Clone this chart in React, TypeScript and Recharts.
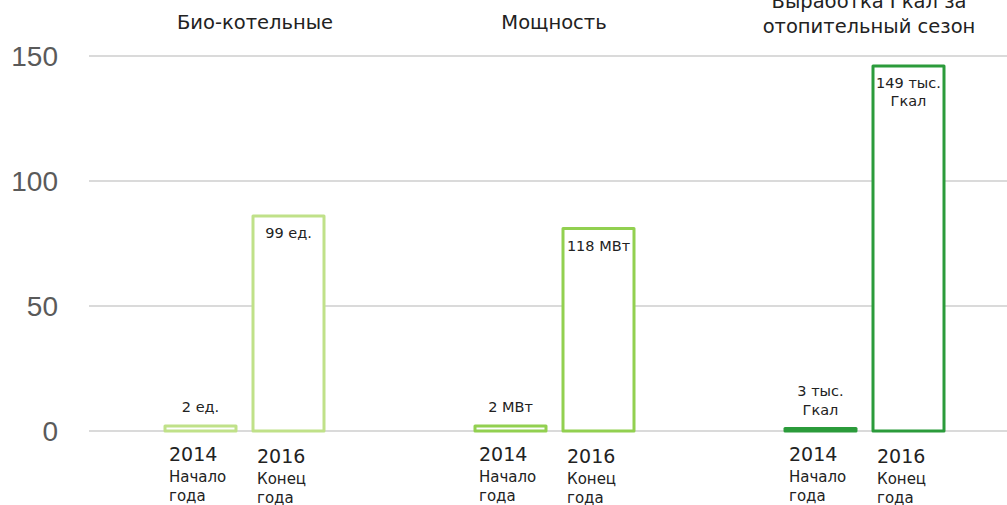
import { Bar, BarChart, CartesianGrid, Cell, LabelList, XAxis, YAxis } from "recharts";

// chart values
const titles = ["Био-котельные", "Мощность", "Выработка Гкал за\nотопительный сезон"];
const startValues = [2, 2, 1];
const endValues = [86, 81, 146];
const startLabels = ["2 ед.", "2 МВт", "3 тыс.\nГкал"];
const endLabels = ["99 ед.", "118 МВт", "149 тыс.\nГкал"];
const startCaption = ["2014", "Начало", "года"];
const endCaption = ["2016", "Конец", "года"];
const yTicks = [0, 50, 100, 150];

const rows = titles.map((title, i) => ({
  title,
  start: startValues[i],
  end: endValues[i],
  startLabel: startLabels[i],
  endLabel: endLabels[i],
}));

// styling
const colors = ["#c0e189", "#92d050", "#2b9b3b"];
const titleShift = [11, 0, 5];
const FONT = "'DejaVu Sans', sans-serif";
const INK = "#222";

type LabelProps = {
  x?: number | string;
  y?: number | string;
  width?: number | string;
  height?: number | string;
  value?: unknown;
};

const num = (v: number | string | undefined) => Number(v ?? 0);

const TitleTick = (props: { x?: number; y?: number; index?: number; payload?: { value?: string } }) => {
  const lines = String(props.payload?.value ?? "").split("\n");
  const x = num(props.x) + (titleShift[props.index ?? 0] ?? 0);
  const y = num(props.y);
  // last line sits a bit lower when the title wraps
  const last = lines.length > 1 ? y - 23 : y - 27;
  return (
    <text x={x} textAnchor="middle" fontFamily={FONT} fontSize={19.5} fill={INK}>
      {lines.map((l, i) => (
        <tspan key={i} x={x} y={last - (lines.length - 1 - i) * 25}>
          {l}
        </tspan>
      ))}
    </text>
  );
};

const aboveLabel = (p: LabelProps) => {
  const lines = String(p.value ?? "").split("\n");
  const cx = num(p.x) + num(p.width) / 2;
  const top = num(p.y);
  return (
    <text textAnchor="middle" fontFamily={FONT} fontSize={14.5} fill={INK}>
      {lines.map((l, i) => (
        <tspan key={i} x={cx} y={top - 14 - (lines.length - 1 - i) * 19}>
          {l}
        </tspan>
      ))}
    </text>
  );
};

const insideLabel = (p: LabelProps) => {
  const lines = String(p.value ?? "").split("\n");
  const cx = num(p.x) + num(p.width) / 2;
  const top = num(p.y);
  return (
    <text textAnchor="middle" fontFamily={FONT} fontSize={14.5} fill={INK}>
      {lines.map((l, i) => (
        <tspan key={i} x={cx} y={top + 22 + i * 18}>
          {l}
        </tspan>
      ))}
    </text>
  );
};

const caption = (lines: string[], drop: number) => (p: LabelProps) => {
  const left = num(p.x) + 4;
  const base = num(p.y) + num(p.height);
  return (
    <g fontFamily={FONT} fill={INK}>
      <text x={left} y={base + 30 + drop} fontSize={19}>
        {lines[0]}
      </text>
      <text x={left} y={base + 51 + drop} fontSize={15}>
        {lines[1]}
      </text>
      <text x={left} y={base + 70 + drop} fontSize={15}>
        {lines[2]}
      </text>
    </g>
  );
};

export default function App() {
  return (
    <div
      style={{
        position: "absolute",
        left: 0,
        top: 0,
        width: 1007,
        height: 505,
        overflow: "hidden",
        background: "#fff",
      }}
    >
      <BarChart
        width={1019}
        height={505}
        data={rows}
        margin={{ top: 0, right: 0, bottom: 74, left: 0 }}
        barSize={71}
        barGap={17}
      >
        <CartesianGrid vertical={false} stroke="#dadada" strokeWidth={2} />
        <XAxis
          dataKey="title"
          orientation="top"
          height={56}
          axisLine={false}
          tickLine={false}
          tickSize={0}
          tickMargin={0}
          interval={0}
          tick={TitleTick}
        />
        <YAxis
          domain={[0, 150]}
          ticks={yTicks}
          width={89}
          axisLine={false}
          tickLine={false}
          tickMargin={25}
          tick={{ fontSize: 28, fill: "#5a5a5a", fontFamily: "'Liberation Sans', sans-serif" }}
        />
        <Bar dataKey="start" fill="#fff" strokeWidth={3} strokeLinejoin="round" isAnimationActive={false}>
          {rows.map((_, i) => (
            <Cell key={i} stroke={colors[i]} />
          ))}
          <LabelList dataKey="startLabel" content={aboveLabel} />
          <LabelList dataKey="start" content={caption(startCaption, 0)} />
        </Bar>
        <Bar dataKey="end" fill="#fff" strokeWidth={3} strokeLinejoin="round" isAnimationActive={false}>
          {rows.map((_, i) => (
            <Cell key={i} stroke={colors[i]} />
          ))}
          <LabelList dataKey="endLabel" content={insideLabel} />
          <LabelList dataKey="end" content={caption(endCaption, 2)} />
        </Bar>
      </BarChart>
    </div>
  );
}
